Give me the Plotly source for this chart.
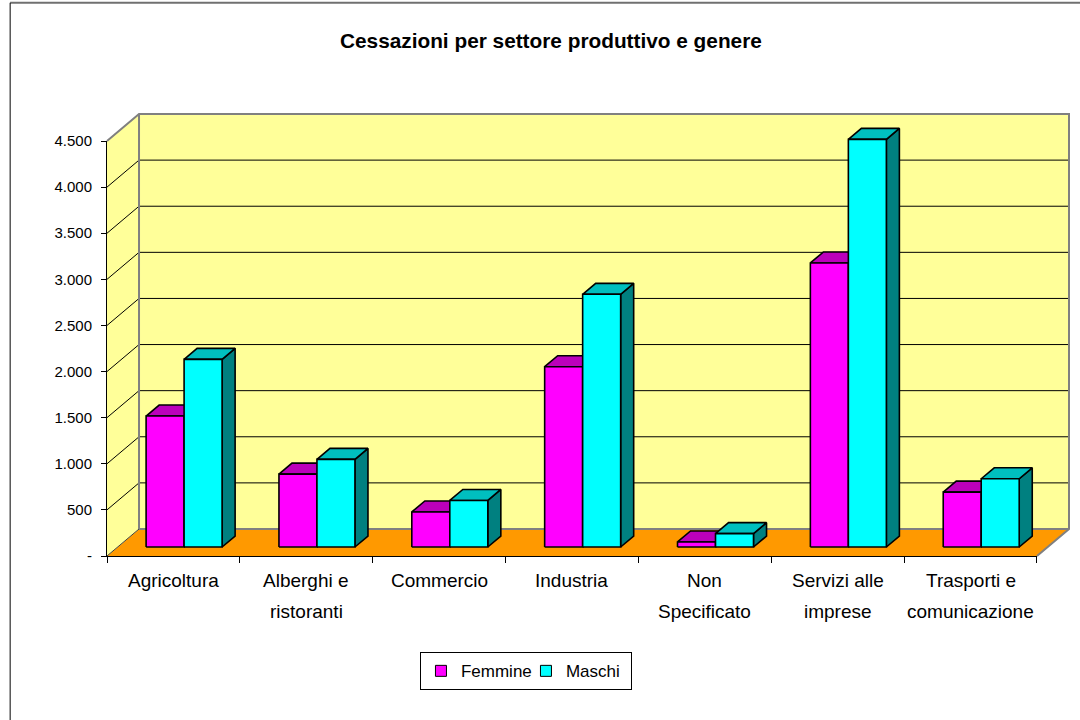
import plotly.graph_objects as go

# ---------------- data ----------------
categories = ["Agricoltura", "Alberghi e ristoranti", "Commercio", "Industria",
              "Non Specificato", "Servizi alle imprese", "Trasporti e comunicazione"]
label_line1 = ["Agricoltura", "Alberghi e", "Commercio", "Industria", "Non", "Servizi alle", "Trasporti e"]
label_line2 = ["", "ristoranti", "", "", "Specificato", "imprese", "comunicazione"]
femmine = [1420, 790, 380, 1955, 55, 3080, 595]
maschi = [2035, 950, 505, 2740, 145, 4420, 740]
y_tick_vals = [0, 500, 1000, 1500, 2000, 2500, 3000, 3500, 4000, 4500]
y_tick_text = ["-", "500", "1.000", "1.500", "2.000", "2.500", "3.000", "3.500", "4.000", "4.500"]
series_names = ["Femmine", "Maschi"]

# ---------------- layout geometry (pixels) ----------------
W, H = 1080, 720
AX_L, AX_R = 107.3, 1036.7   # front category axis ends
AX_B, AX_T = 555.7, 140.7    # front pixel of 0 and of y max tick
DEPTH_PX_X, DEPTH_PX_Y = 32.0, 27.0
PAD = 4.0
N = len(categories)
YMAX = y_tick_vals[-1]

xs = (AX_R - AX_L) / N            # px per x unit
ys = (AX_B - AX_T) / YMAX         # px per y unit
DX = DEPTH_PX_X / xs
DY = DEPTH_PX_Y / ys

xmin = -0.5 - PAD / xs
xmax = N - 0.5 + DX + PAD / xs
ymin = 0 - PAD / ys
ymax = YMAX + DY + PAD / ys

plot_L = AX_L - PAD
plot_R = AX_R + DEPTH_PX_X + PAD
plot_T = AX_T - DEPTH_PX_Y - PAD
plot_B = AX_B + PAD


def px_to_paper_x(px):
    return (px - plot_L) / (plot_R - plot_L)


def px_to_paper_y(py):
    return (plot_B - py) / (plot_B - plot_T)


WALL = "#FFFF99"
FLOOR = "#FF9900"
EDGE = "#808080"
COLORS = {
    "Femmine": ("#FF00FF", "#BB00BB", "#800080"),
    "Maschi": ("#00FFFF", "#00BFBF", "#008080"),
}

fig = go.Figure()


def poly(xv, yv, fill, line_color, line_width=1.0):
    fig.add_trace(go.Scatter(
        x=list(xv) + [xv[0]], y=list(yv) + [yv[0]], mode="lines", fill="toself",
        fillcolor=fill, line=dict(color=line_color, width=line_width),
        hoverinfo="skip", showlegend=False))


def line(xv, yv, color, width=1.0):
    fig.add_trace(go.Scatter(x=xv, y=yv, mode="lines", line=dict(color=color, width=width),
                             hoverinfo="skip", showlegend=False))


x_left, x_right = -0.5, N - 0.5

# floor
poly([x_left, x_right, x_right + DX, x_left + DX], [0, 0, DY, DY], FLOOR, FLOOR, 0.5)
# left wall
poly([x_left, x_left + DX, x_left + DX, x_left], [0, DY, YMAX + DY, YMAX], WALL, WALL, 0.5)
# back wall
poly([x_left + DX, x_right + DX, x_right + DX, x_left + DX], [DY, DY, YMAX + DY, YMAX + DY], WALL, WALL, 0.5)

# gridlines (on left wall + back wall)
for t in y_tick_vals[1:-1]:
    line([x_left, x_left + DX, x_right + DX], [t, t + DY, t + DY], "black", 1)

# wall / floor edges
line([x_left, x_left + DX, x_right + DX, x_right + DX, x_right],
     [YMAX, YMAX + DY, YMAX + DY, DY, 0], EDGE, 2)
line([x_left + DX, x_left + DX, x_right + DX], [YMAX + DY, DY, DY], EDGE, 2)
line([x_left, x_left + DX], [0, DY], "#404040", 1)

# bars
BW = 0.286
D0, D1 = 0.333, 0.74
for i in range(N):
    for name, vals, x0 in (("Femmine", femmine, i - BW), ("Maschi", maschi, i)):
        v = vals[i]
        x1 = x0 + BW
        front, top, side = COLORS[name]
        fx0, fx1, fb = x0 + D0 * DX, x1 + D0 * DX, D0 * DY
        bx0, bx1, bb = x0 + D1 * DX, x1 + D1 * DX, D1 * DY
        poly([fx1, bx1, bx1, fx1], [fb, bb, v + bb, v + fb], side, "black", 1.6)
        poly([fx0, fx1, bx1, bx0], [v + fb, v + fb, v + bb, v + bb], top, "black", 1.6)
        poly([fx0, fx1, fx1, fx0], [fb, fb, v + fb, v + fb], front, "black", 1.6)

# legend entries
for name in series_names:
    fig.add_trace(go.Scatter(x=[None], y=[None], mode="markers", name=name,
                             marker=dict(symbol="square", size=11, color=COLORS[name][0],
                                         line=dict(color="black", width=1))))

# dummy trace for visible axes
fig.add_trace(go.Scatter(x=[None], y=[None], xaxis="x2", yaxis="y2", showlegend=False,
                         hoverinfo="skip"))

FONT = "Arial, Liberation Sans, sans-serif"

# category labels
for i in range(N):
    fig.add_annotation(x=i, xref="x", y=px_to_paper_y(580), yref="paper", text=label_line1[i],
                       showarrow=False, yanchor="middle", font=dict(family=FONT, size=19, color="black"))
    if label_line2[i]:
        fig.add_annotation(x=i, xref="x", y=px_to_paper_y(611), yref="paper", text=label_line2[i],
                           showarrow=False, yanchor="middle", font=dict(family=FONT, size=19, color="black"))

# title
fig.add_annotation(x=px_to_paper_x(551), xref="paper", y=px_to_paper_y(40), yref="paper",
                   text="<b>Cessazioni per settore produttivo e genere</b>", showarrow=False,
                   yanchor="middle", font=dict(family=FONT, size=20.8, color="black"))

# outer frame
fig.add_shape(type="line", xref="paper", yref="paper",
              x0=px_to_paper_x(10.5), x1=px_to_paper_x(1090), y0=px_to_paper_y(2.5), y1=px_to_paper_y(2.5),
              line=dict(color="#707070", width=2))
fig.add_shape(type="line", xref="paper", yref="paper",
              x0=px_to_paper_x(10.5), x1=px_to_paper_x(10.5), y0=px_to_paper_y(2.5), y1=px_to_paper_y(730),
              line=dict(color="black", width=1))

x2_dom = [(x_left - xmin) / (xmax - xmin), (x_right - xmin) / (xmax - xmin)]
y2_dom = [(0 - ymin) / (ymax - ymin), (YMAX - ymin) / (ymax - ymin)]

fig.update_layout(
    width=W, height=H,
    margin=dict(l=plot_L, r=W - plot_R, t=plot_T, b=H - plot_B, autoexpand=False),
    paper_bgcolor="white", plot_bgcolor="rgba(0,0,0,0)",
    font=dict(family=FONT, size=15, color="black"),
    xaxis=dict(range=[xmin, xmax], visible=False, fixedrange=True),
    yaxis=dict(range=[ymin, ymax], visible=False, fixedrange=True),
    xaxis2=dict(domain=x2_dom, range=[x_left, x_right], anchor="y2", showgrid=False, zeroline=False,
                showline=True, linecolor="black", linewidth=1, fixedrange=True,
                tickmode="array", tickvals=[x_left + k for k in range(N + 1)], ticktext=[""] * (N + 1),
                ticks="outside", ticklen=6, tickcolor="black", tickwidth=1),
    yaxis2=dict(domain=y2_dom, range=[0, YMAX], anchor="x2", showgrid=False, zeroline=False,
                showline=True, linecolor="black", linewidth=1, fixedrange=True,
                tickmode="array", tickvals=y_tick_vals, ticktext=y_tick_text,
                ticks="outside", ticklen=5, tickcolor="black", tickwidth=1, ticklabelstandoff=6,
                tickfont=dict(family=FONT, size=15, color="black")),
    legend=dict(orientation="h", x=px_to_paper_x(526), xanchor="center", y=px_to_paper_y(652),
                yanchor="top", bgcolor="white", bordercolor="black", borderwidth=1,
                font=dict(family=FONT, size=17, color="black"), itemwidth=30,
                entrywidth=60, entrywidthmode="pixels"),
    showlegend=True,
)

fig.write_html("out.html", config={"displayModeBar": False, "staticPlot": False},
               post_script="document.body.style.margin='0';document.body.style.overflow='hidden';")
